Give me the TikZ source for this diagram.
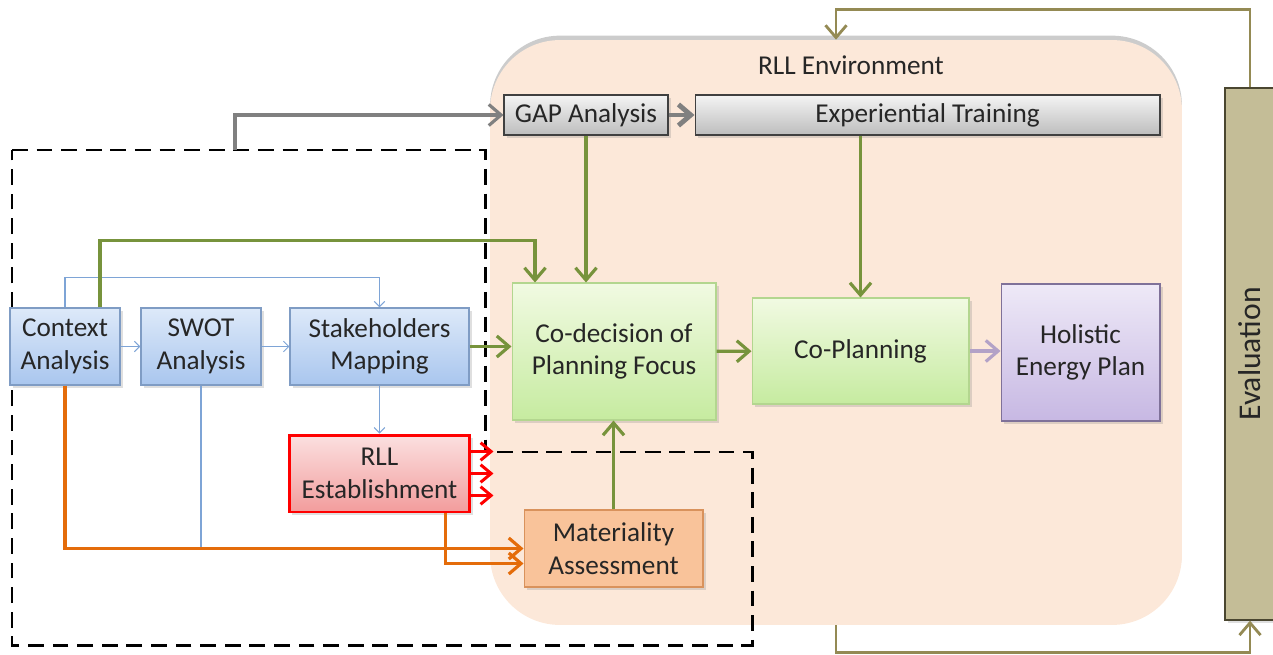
\documentclass[tikz,border=0pt]{standalone}
\usepackage{fontspec}
\setmainfont{Carlito}
\usepackage{graphicx}
\usetikzlibrary{arrows.meta,shadows}

\definecolor{envfill}{HTML}{FCE8D9}
\definecolor{textdark}{HTML}{262626}
\definecolor{bluetop}{HTML}{DDE9F9}
\definecolor{bluebot}{HTML}{A9C6EE}
\definecolor{blueedge}{HTML}{7F9CC4}
\definecolor{linkblue}{HTML}{7EA4D6}
\definecolor{greentop}{HTML}{F1FAE2}
\definecolor{greenbot}{HTML}{C6EBA0}
\definecolor{greenedge}{HTML}{B3D68F}
\definecolor{linkgreen}{HTML}{77933C}
\definecolor{graytop}{HTML}{F4F4F4}
\definecolor{graybot}{HTML}{BDBDBD}
\definecolor{grayedge}{HTML}{404040}
\definecolor{linkgray}{HTML}{808080}
\definecolor{redtop}{HTML}{FBE0E0}
\definecolor{redbot}{HTML}{F29C9C}
\definecolor{linkred}{HTML}{FF0000}
\definecolor{orangefill}{HTML}{F9C39A}
\definecolor{orangeedge}{HTML}{D9925C}
\definecolor{linkorange}{HTML}{E46C0A}
\definecolor{purpletop}{HTML}{EEE9F7}
\definecolor{purplebot}{HTML}{C7B8E3}
\definecolor{purpleedge}{HTML}{7F7199}
\definecolor{linkpurple}{HTML}{B3A2C7}
\definecolor{evalfill}{HTML}{C4BD97}
\definecolor{evaledge}{HTML}{4A4630}
\definecolor{linkolive}{HTML}{948A54}

\begin{document}
\begin{tikzpicture}[x=0.02cm, y=-0.02cm,
    box/.style={draw, line width=0.6pt, align=center, inner sep=2pt,
        font=\fontsize{15.5}{18.5}\selectfont, text=textdark,
        drop shadow={opacity=0.25, shadow xshift=1.5pt, shadow yshift=-1.5pt}},
    bluebox/.style={box, draw=blueedge, top color=bluetop, bottom color=bluebot, minimum height=1.54cm},
    graybox/.style={box, draw=grayedge, top color=graytop, bottom color=graybot, minimum height=0.8cm},
    greenbox/.style={box, draw=greenedge, top color=greentop, bottom color=greenbot},
    purplebox/.style={box, draw=purpleedge, top color=purpletop, bottom color=purplebot},
    orangebox/.style={box, draw=orangeedge, fill=orangefill},
    redbox/.style={box, draw=linkred, line width=1.7pt, top color=redtop, bottom color=redbot, minimum height=1.54cm},
    evalbox/.style={box, draw=evaledge, line width=0.8pt, fill=evalfill, font=\fontsize{18}{21}\selectfont},
    bluearrow/.style={draw=linkblue, line width=0.6pt, -{Straight Barb[length=3pt,width=6pt]}},
    blueline/.style={draw=linkblue, line width=0.6pt},
    greenarrow/.style={draw=linkgreen, line width=1.8pt, -{Straight Barb[length=7pt,width=12pt]}},
    orangearrow/.style={draw=linkorange, line width=1.8pt, -{Straight Barb[length=7pt,width=12pt]}},
    redarrow/.style={draw=linkred, line width=1.7pt, -{Straight Barb[length=6pt,width=10pt]}},
    purplearrow/.style={draw=linkpurple, line width=1.8pt, -{Straight Barb[length=7pt,width=12pt]}},
    grayarrow/.style={draw=linkgray, line width=1.8pt, -{Straight Barb[length=7pt,width=12pt]}},
    olivearrow/.style={draw=linkolive, line width=1.6pt, -{Straight Barb[length=7pt,width=12pt]}},
    dashbox/.style={draw=black, line width=1.7pt, dash pattern=on 9pt off 5pt}
  ]
    \useasboundingbox (0,0) rectangle (1273,655);

    \node[fill=envfill, rounded corners=1.4cm, minimum width=13.84cm, minimum height=11.7cm,
        drop shadow={opacity=0.4, shadow xshift=0pt, shadow yshift=2.5pt}] (env) at (836,332.5) {};
    \node[font=\fontsize{15.5}{18.5}\selectfont, text=textdark] (envlabel) at (851,65) {RLL Environment};

    \draw[dashbox] (12,150) -- (485,150) -- (485,452) -- (752,452) -- (752,645) -- (12,645) -- cycle;

    \node[graybox, minimum width=3.28cm] (gap) at (586,115) {GAP Analysis};
    \node[graybox, minimum width=9.3cm] (exp) at (927.5,115) {Experiential Training};
    \node[bluebox, minimum width=2.2cm] (ctx) at (65,346.5) {Context\\Analysis};
    \node[bluebox, minimum width=2.4cm] (swot) at (201,346.5) {SWOT\\Analysis};
    \node[bluebox, minimum width=3.58cm] (stake) at (379.5,346.5) {Stakeholders\\Mapping};
    \node[redbox, minimum width=3.62cm] (rll) at (379.5,473.5) {RLL\\Establishment};
    \node[greenbox, minimum width=4.08cm, minimum height=2.74cm] (codec) at (614,351.5) {Co-decision of\\Planning Focus};
    \node[greenbox, minimum width=4.34cm, minimum height=2.12cm] (coplan) at (860.5,351) {Co-Planning};
    \node[purplebox, minimum width=3.18cm, minimum height=2.74cm] (hol) at (1080.5,352.5) {Holistic\\Energy Plan};
    \node[orangebox, minimum width=3.58cm, minimum height=1.54cm] (mat) at (613.5,548.5) {Materiality\\Assessment};
    \node[evalbox, minimum width=1cm, minimum height=10.64cm] (eval) at (1250,354) {\rotatebox{90}{Evaluation}};

    \draw[bluearrow] (ctx) -- (swot);
    \draw[bluearrow] (swot) -- (stake);
    \draw[bluearrow] (ctx.north) -- ++(0,-30) -| (stake.north);
    \draw[bluearrow] (stake) -- (rll);
    \draw[blueline] (swot.south) -- (swot.south |- mat.west);

    \draw[orangearrow] (ctx.south) |- (mat.west);
    \draw[orangearrow] ([xshift=1.32cm]rll.south) |- ([yshift=-0.3cm]mat.west);
    \foreach \dy in {0.44,0,-0.44}
        \draw[redarrow] ([yshift=\dy cm]rll.east) -- ++(22,0);

    \draw[greenarrow] ([xshift=0.7cm]ctx.north) -- ++(0,-67) -| ([xshift=-1.58cm]codec.north);
    \draw[greenarrow] (gap) -- (gap.south |- codec.north);
    \draw[greenarrow] (coplan.north |- exp.south) -- (coplan);
    \draw[greenarrow] (stake.east) -- (stake.east -| codec.west);
    \draw[greenarrow] (codec) -- (coplan);
    \draw[greenarrow] (mat) -- (mat.north |- codec.south);
    \draw[purplearrow] (coplan.east) -- (coplan.east -| hol.west);

    \coordinate (dashtop) at (235,150);
    \draw[grayarrow] (dashtop) |- (gap.west);
    \draw[grayarrow, line width=2.8pt] (gap) -- (exp);

    \draw[olivearrow] (eval.north) -- ++(0,-78) -| (env.north);
    \draw[olivearrow] (env.south) -- ++(0,27) -| (eval.south);
  \end{tikzpicture}
\end{document}
